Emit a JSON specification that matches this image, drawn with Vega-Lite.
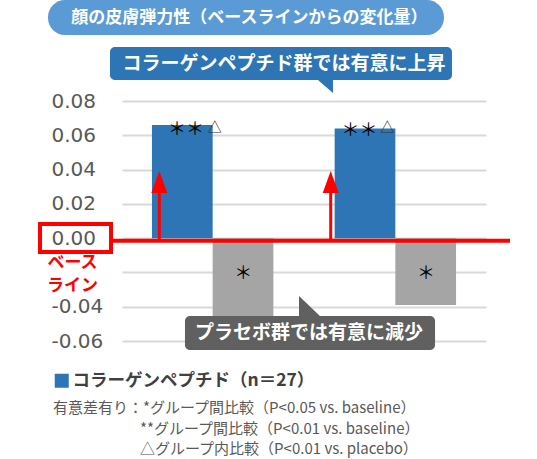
{
  "$schema": "https://vega.github.io/schema/vega-lite/v6.json",
  "width": 364,
  "height": 240,
  "autosize": {"type": "none"},
  "padding": {"left": 122, "top": 101, "right": 51, "bottom": 118},
  "background": "white",
  "config": {"view": {"stroke": null}, "font": "Noto Sans CJK JP"},
  "resolve": {"scale": {"x": "independent"}},
  "layer": [
    {
      "data": {"values": [
        {"時点": "時点1", "群": "コラーゲンペプチド", "変化量": 0.066},
        {"時点": "時点1", "群": "プラセボ", "変化量": -0.048},
        {"時点": "時点2", "群": "コラーゲンペプチド", "変化量": 0.064},
        {"時点": "時点2", "群": "プラセボ", "変化量": -0.039}
      ]},
      "mark": {"type": "bar"},
      "encoding": {
        "x": {"field": "時点", "type": "nominal", "axis": null, "scale": {"paddingInner": 0.3355, "paddingOuter": 0.164}},
        "xOffset": {"field": "群", "type": "nominal", "sort": ["コラーゲンペプチド", "プラセボ"], "scale": {"paddingInner": 0, "paddingOuter": 0}},
        "y": {"field": "変化量", "type": "quantitative",
          "scale": {"domain": [-0.06, 0.08], "nice": false},
          "axis": {"values": [-0.06, -0.04, -0.02, 0, 0.02, 0.04, 0.06, 0.08], "tickCount": 20,
            "labelExpr": "abs(datum.value + 0.02) < 0.001 ? '' : (datum.value < -0.001 ? '-' + format(-datum.value, '.2f') : format(abs(datum.value), '.2f'))",
            "labelAlign": "left", "labelBaseline": "middle", "labelPadding": 71, "ticks": false, "tickSize": 0, "domain": false,
            "title": null, "labelFont": "DejaVu Sans", "labelFontSize": 20, "labelColor": "#595959", "labelFlush": false, "labelOverlap": false,
            "grid": true, "gridColor": "#d9d9d9", "gridWidth": 2}},
        "color": {"field": "群", "type": "nominal",
          "scale": {"domain": ["コラーゲンペプチド", "プラセボ"], "range": ["#2e75b6", "#a5a5a5"]},
          "legend": {"values": ["コラーゲンペプチド"], "labelExpr": "datum.label + '（n＝27）'", "orient": "none", "legendX": -69, "legendY": 271,
            "title": null, "padding": 0, "symbolType": "square", "symbolSize": 196, "symbolStrokeWidth": 0, "labelOffset": 2, "labelLimit": 500,
            "labelFont": "Noto Sans CJK JP", "labelFontSize": 17.5, "labelFontWeight": "bold", "labelColor": "#404040"}}
      }
    },
    {
      "data": {"values": [{}]},
      "layer": [
        {"mark": {"type": "rect", "color": "#5b9bd5", "cornerRadius": 17},
         "encoding": {
          "x": {"datum": 0.0934, "type": "quantitative", "scale": {"domain": [0.5, 2.5], "nice": false, "zero": false}, "axis": null},
          "x2": {"datum": 2.269},
          "y": {"datum": 0.1389, "type": "quantitative", "scale": {"domain": [-0.06, 0.08], "nice": false}},
          "y2": {"datum": 0.1185}}},
        {"mark": {"type": "text", "text": "顔の皮膚弾力性（ベースラインからの変化量）", "color": "white", "fontWeight": "bold", "fontSize": 17, "align": "center", "baseline": "middle"},
         "encoding": {
          "x": {"datum": 1.2, "type": "quantitative", "scale": {"domain": [0.5, 2.5], "nice": false, "zero": false}, "axis": null},
          "y": {"datum": 0.1284, "type": "quantitative", "scale": {"domain": [-0.06, 0.08], "nice": false}}}},
        {"mark": {"type": "rect", "color": "#2e75b6", "cornerRadius": 5},
         "encoding": {
          "x": {"datum": 0.434, "type": "quantitative", "scale": {"domain": [0.5, 2.5], "nice": false, "zero": false}, "axis": null},
          "x2": {"datum": 2.313},
          "y": {"datum": 0.1115, "type": "quantitative", "scale": {"domain": [-0.06, 0.08], "nice": false}},
          "y2": {"datum": 0.0922}}},
        {"mark": {"type": "point", "shape": "M-1,-0.867 L-1,-1.4 L1,-1.4 L1,0.867 Z", "filled": true, "opacity": 1, "color": "#2e75b6", "size": 225, "strokeWidth": 0},
         "encoding": {
          "x": {"datum": 1.618, "type": "quantitative", "scale": {"domain": [0.5, 2.5], "nice": false, "zero": false}, "axis": null},
          "y": {"datum": 0.0884, "type": "quantitative", "scale": {"domain": [-0.06, 0.08], "nice": false}}}},
        {"mark": {"type": "text", "text": "コラーゲンペプチド群では有意に上昇", "color": "white", "fontWeight": "bold", "fontSize": 19, "align": "center", "baseline": "middle"},
         "encoding": {
          "x": {"datum": 1.39, "type": "quantitative", "scale": {"domain": [0.5, 2.5], "nice": false, "zero": false}, "axis": null},
          "y": {"datum": 0.1013, "type": "quantitative", "scale": {"domain": [-0.06, 0.08], "nice": false}}}},
        {"mark": {"type": "point", "shape": "M-1,-0.955 L1,0.955 L1,1.4 L-1,1.4 Z", "filled": true, "opacity": 1, "color": "#606060", "size": 484, "strokeWidth": 0},
         "encoding": {
          "x": {"datum": 1.533, "type": "quantitative", "scale": {"domain": [0.5, 2.5], "nice": false, "zero": false}, "axis": null},
          "y": {"datum": -0.0399, "type": "quantitative", "scale": {"domain": [-0.06, 0.08], "nice": false}}}},
        {"mark": {"type": "rect", "color": "#606060", "cornerRadius": 5},
         "encoding": {
          "x": {"datum": 0.846, "type": "quantitative", "scale": {"domain": [0.5, 2.5], "nice": false, "zero": false}, "axis": null},
          "x2": {"datum": 2.22},
          "y": {"datum": -0.0454, "type": "quantitative", "scale": {"domain": [-0.06, 0.08], "nice": false}},
          "y2": {"datum": -0.0653}}},
        {"mark": {"type": "text", "text": "プラセボ群では有意に減少", "color": "white", "fontWeight": "bold", "fontSize": 19, "align": "center", "baseline": "middle"},
         "encoding": {
          "x": {"datum": 1.527, "type": "quantitative", "scale": {"domain": [0.5, 2.5], "nice": false, "zero": false}, "axis": null},
          "y": {"datum": -0.0552, "type": "quantitative", "scale": {"domain": [-0.06, 0.08], "nice": false}}}},
        {"mark": {"type": "rule", "color": "#ff0000", "strokeWidth": 4},
         "encoding": {
          "x": {"datum": 0.4396, "type": "quantitative", "scale": {"domain": [0.5, 2.5], "nice": false, "zero": false}, "axis": null},
          "x2": {"datum": 2.632},
          "y": {"datum": -0.0015, "type": "quantitative", "scale": {"domain": [-0.06, 0.08], "nice": false}}}},
        {"mark": {"type": "rect", "fillOpacity": 0, "stroke": "#ff0000", "strokeWidth": 4},
         "encoding": {
          "x": {"datum": 0.0495, "type": "quantitative", "scale": {"domain": [0.5, 2.5], "nice": false, "zero": false}, "axis": null},
          "x2": {"datum": 0.4396},
          "y": {"datum": 0.0082, "type": "quantitative", "scale": {"domain": [-0.06, 0.08], "nice": false}},
          "y2": {"datum": -0.0081}}},
        {"mark": {"type": "rule", "color": "#ff0000", "strokeWidth": 3},
         "encoding": {
          "x": {"datum": 0.705, "type": "quantitative", "scale": {"domain": [0.5, 2.5], "nice": false, "zero": false}, "axis": null},
          "y": {"datum": -0.0015, "type": "quantitative", "scale": {"domain": [-0.06, 0.08], "nice": false}},
          "y2": {"datum": 0.028}}},
        {"mark": {"type": "rule", "color": "#ff0000", "strokeWidth": 3},
         "encoding": {
          "x": {"datum": 1.6467, "type": "quantitative", "scale": {"domain": [0.5, 2.5], "nice": false, "zero": false}, "axis": null},
          "y": {"datum": -0.0015, "type": "quantitative", "scale": {"domain": [-0.06, 0.08], "nice": false}},
          "y2": {"datum": 0.028}}},
        {"mark": {"type": "point", "shape": "M0,-1 L0.727,1 L-0.727,1 Z", "filled": true, "opacity": 1, "color": "#ff0000", "size": 484, "strokeWidth": 0},
         "encoding": {
          "x": {"datum": 0.705, "type": "quantitative", "scale": {"domain": [0.5, 2.5], "nice": false, "zero": false}, "axis": null},
          "y": {"datum": 0.0327, "type": "quantitative", "scale": {"domain": [-0.06, 0.08], "nice": false}}}},
        {"mark": {"type": "point", "shape": "M0,-1 L0.727,1 L-0.727,1 Z", "filled": true, "opacity": 1, "color": "#ff0000", "size": 484, "strokeWidth": 0},
         "encoding": {
          "x": {"datum": 1.6467, "type": "quantitative", "scale": {"domain": [0.5, 2.5], "nice": false, "zero": false}, "axis": null},
          "y": {"datum": 0.0327, "type": "quantitative", "scale": {"domain": [-0.06, 0.08], "nice": false}}}},
        {"mark": {"type": "text", "text": "ベース", "color": "#ff0000", "fontWeight": "bold", "fontSize": 17, "align": "center", "baseline": "middle"},
         "encoding": {
          "x": {"datum": 0.228, "type": "quantitative", "scale": {"domain": [0.5, 2.5], "nice": false, "zero": false}, "axis": null},
          "y": {"datum": -0.0146, "type": "quantitative", "scale": {"domain": [-0.06, 0.08], "nice": false}}}},
        {"mark": {"type": "text", "text": "ライン", "color": "#ff0000", "fontWeight": "bold", "fontSize": 17, "align": "center", "baseline": "middle"},
         "encoding": {
          "x": {"datum": 0.228, "type": "quantitative", "scale": {"domain": [0.5, 2.5], "nice": false, "zero": false}, "axis": null},
          "y": {"datum": -0.0277, "type": "quantitative", "scale": {"domain": [-0.06, 0.08], "nice": false}}}},
        {"mark": {"type": "text", "text": "＊＊", "color": "#000000", "fontSize": 18, "align": "center", "baseline": "middle"},
         "encoding": {
          "x": {"datum": 0.852, "type": "quantitative", "scale": {"domain": [0.5, 2.5], "nice": false, "zero": false}, "axis": null},
          "y": {"datum": 0.0633, "type": "quantitative", "scale": {"domain": [-0.06, 0.08], "nice": false}}}},
        {"mark": {"type": "text", "text": "＊＊", "color": "#000000", "fontSize": 18, "align": "center", "baseline": "middle"},
         "encoding": {
          "x": {"datum": 1.805, "type": "quantitative", "scale": {"domain": [0.5, 2.5], "nice": false, "zero": false}, "axis": null},
          "y": {"datum": 0.0627, "type": "quantitative", "scale": {"domain": [-0.06, 0.08], "nice": false}}}},
        {"mark": {"type": "text", "text": "△", "color": "#333333", "fontSize": 14, "align": "center", "baseline": "middle"},
         "encoding": {
          "x": {"datum": 1.01, "type": "quantitative", "scale": {"domain": [0.5, 2.5], "nice": false, "zero": false}, "axis": null},
          "y": {"datum": 0.0642, "type": "quantitative", "scale": {"domain": [-0.06, 0.08], "nice": false}}}},
        {"mark": {"type": "text", "text": "△", "color": "#333333", "fontSize": 14, "align": "center", "baseline": "middle"},
         "encoding": {
          "x": {"datum": 1.958, "type": "quantitative", "scale": {"domain": [0.5, 2.5], "nice": false, "zero": false}, "axis": null},
          "y": {"datum": 0.0642, "type": "quantitative", "scale": {"domain": [-0.06, 0.08], "nice": false}}}},
        {"mark": {"type": "text", "text": "＊", "color": "#000000", "fontSize": 18, "align": "center", "baseline": "middle"},
         "encoding": {
          "x": {"datum": 1.1665, "type": "quantitative", "scale": {"domain": [0.5, 2.5], "nice": false, "zero": false}, "axis": null},
          "y": {"datum": -0.0211, "type": "quantitative", "scale": {"domain": [-0.06, 0.08], "nice": false}}}},
        {"mark": {"type": "text", "text": "＊", "color": "#000000", "fontSize": 18, "align": "center", "baseline": "middle"},
         "encoding": {
          "x": {"datum": 2.17, "type": "quantitative", "scale": {"domain": [0.5, 2.5], "nice": false, "zero": false}, "axis": null},
          "y": {"datum": -0.0211, "type": "quantitative", "scale": {"domain": [-0.06, 0.08], "nice": false}}}},
        {"mark": {"type": "text", "text": "有意差有り：*グループ間比較（P<0.05 vs. baseline）", "color": "#595959", "fontSize": 15, "align": "left", "baseline": "middle"},
         "encoding": {
          "x": {"datum": 0.1209, "type": "quantitative", "scale": {"domain": [0.5, 2.5], "nice": false, "zero": false}, "axis": null},
          "y": {"datum": -0.0991, "type": "quantitative", "scale": {"domain": [-0.06, 0.08], "nice": false}}}},
        {"mark": {"type": "text", "text": "**グループ間比較（P<0.01 vs. baseline）", "color": "#595959", "fontSize": 15, "align": "left", "baseline": "middle"},
         "encoding": {
          "x": {"datum": 0.5989, "type": "quantitative", "scale": {"domain": [0.5, 2.5], "nice": false, "zero": false}, "axis": null},
          "y": {"datum": -0.1113, "type": "quantitative", "scale": {"domain": [-0.06, 0.08], "nice": false}}}},
        {"mark": {"type": "text", "text": "△グループ内比較（P<0.01 vs. placebo）", "color": "#595959", "fontSize": 15, "align": "left", "baseline": "middle"},
         "encoding": {
          "x": {"datum": 0.5989, "type": "quantitative", "scale": {"domain": [0.5, 2.5], "nice": false, "zero": false}, "axis": null},
          "y": {"datum": -0.123, "type": "quantitative", "scale": {"domain": [-0.06, 0.08], "nice": false}}}}
      ]
    }
  ]
}
